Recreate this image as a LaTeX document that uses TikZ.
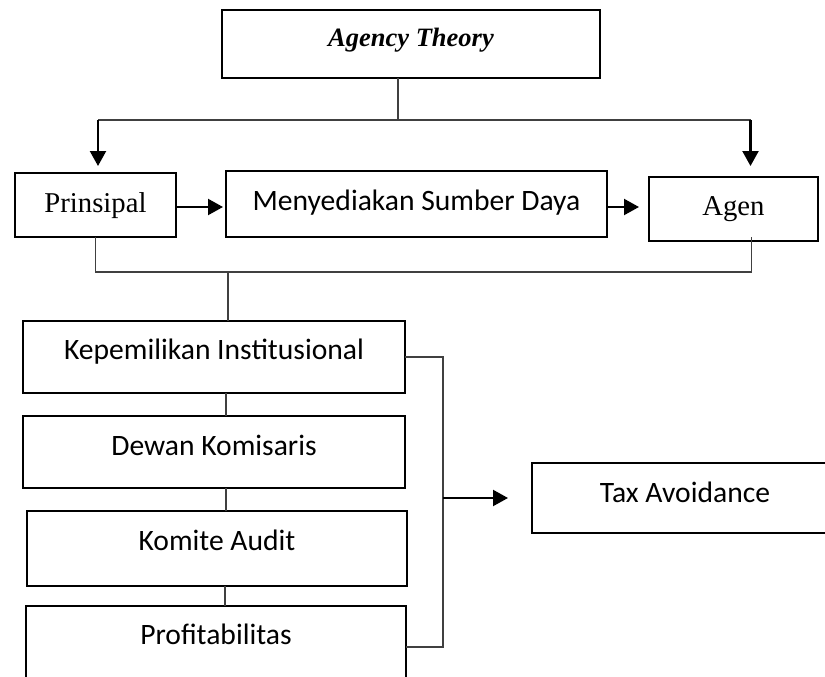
\documentclass[tikz,border=0pt]{standalone}
\usepackage{fontspec}
\setmainfont{Liberation Serif}
\newfontfamily\cbrfont{Carlito}
\usetikzlibrary{arrows.meta, calc}
\tikzset{
  box/.style      = {rectangle, draw, line width=2.2pt, inner sep=0pt,
                     outer sep=0pt, anchor=base, align=center},
  romtext/.style  = {font=\fontsize{28.7}{34}\selectfont},
  sanstext/.style = {font=\cbrfont\fontsize{29.6}{35}\selectfont},
  link/.style     = {line width=1.1pt, draw=black!75},
  arr/.style      = {-{Triangle[length=15pt,width=16pt]}, line width=2.2pt},
}

\begin{document}
\begin{tikzpicture}[x=1pt, y=-1pt]
  \useasboundingbox (0,0) rectangle (825,677);

  % theory
  \node[box, minimum width=378pt, text height=37pt, text depth=31pt,
        font=\fontsize{26.5}{32}\selectfont\bfseries\itshape] (theory) at (411,47) {Agency Theory};

  % principal - agent
  \node[box, romtext, minimum width=161pt, text height=39pt, text depth=25pt] (prin) at (95.5,212) {Prinsipal};
  \node[box, sanstext, minimum width=381pt, text height=39pt, text depth=27pt] (meny) at (416.5,210) {Menyediakan Sumber Daya};
  \node[box, romtext, minimum width=169pt, text height=38pt, text depth=26pt] (agen) at (733.5,215) {Agen};

  \coordinate (split) at (398,120);
  \draw[link] (theory.south -| split) -- (split);
  \draw[link] ([xshift=2.5pt]prin.north |- split) -- ([xshift=17pt]agen.north |- split);
  \draw[arr, shorten >=7pt] ([xshift=2.5pt]prin.north |- split) -- ([xshift=2.5pt]prin.north);
  \draw[arr, shorten >=11pt] ([xshift=17pt]agen.north |- split) -- ([xshift=17pt]agen.north);
  \draw[arr, shorten >=3pt] ([yshift=-2pt]prin.east) -- ([yshift=-2pt]prin.east -| meny.west);
  \draw[arr, shorten >=10pt] ([yshift=-3pt]meny.east) -- ([yshift=-3pt]meny.east -| agen.west);

  % variables
  \node[box, sanstext, minimum width=382pt, text height=38pt, text depth=34pt] (kep) at (214,359) {Kepemilikan Institusional};
  \node[box, sanstext, minimum width=382pt, text height=39pt, text depth=33pt] (dewan) at (214,455) {Dewan Komisaris};
  \node[box, sanstext, minimum width=380pt, text height=39pt, text depth=36pt] (komite) at (217,550) {Komite Audit};
  \node[box, sanstext, minimum width=380pt, text height=38pt, text depth=44pt] (prof) at (216,644) {Profitabilitas};
  \node[box, sanstext, minimum width=306pt, text height=39pt, text depth=31pt] (tax) at (685,502) {Tax Avoidance};

  \coordinate (join) at (228,272);
  \draw[link] (prin.south) |- ([xshift=18pt]agen.south |- join) -- ([xshift=18pt,yshift=4pt]agen.south);
  \draw[link] (join) -- (join |- kep.north);

  \coordinate (spine) at (226,0);
  \draw[link] (kep.south -| spine) -- (dewan.north -| spine);
  \draw[link] (dewan.south -| spine) -- (komite.north -| spine);
  \draw[link] ([xshift=-1pt]komite.south -| spine) -- ([xshift=-1pt]prof.north -| spine);

  \coordinate (bus) at (443,0);
  \draw[link] (kep.east) -| (bus |- prof.east) -- (prof.east);
  \draw[arr, shorten >=24pt] (bus |- tax.west) -- (tax.west);

\end{tikzpicture}
\end{document}
